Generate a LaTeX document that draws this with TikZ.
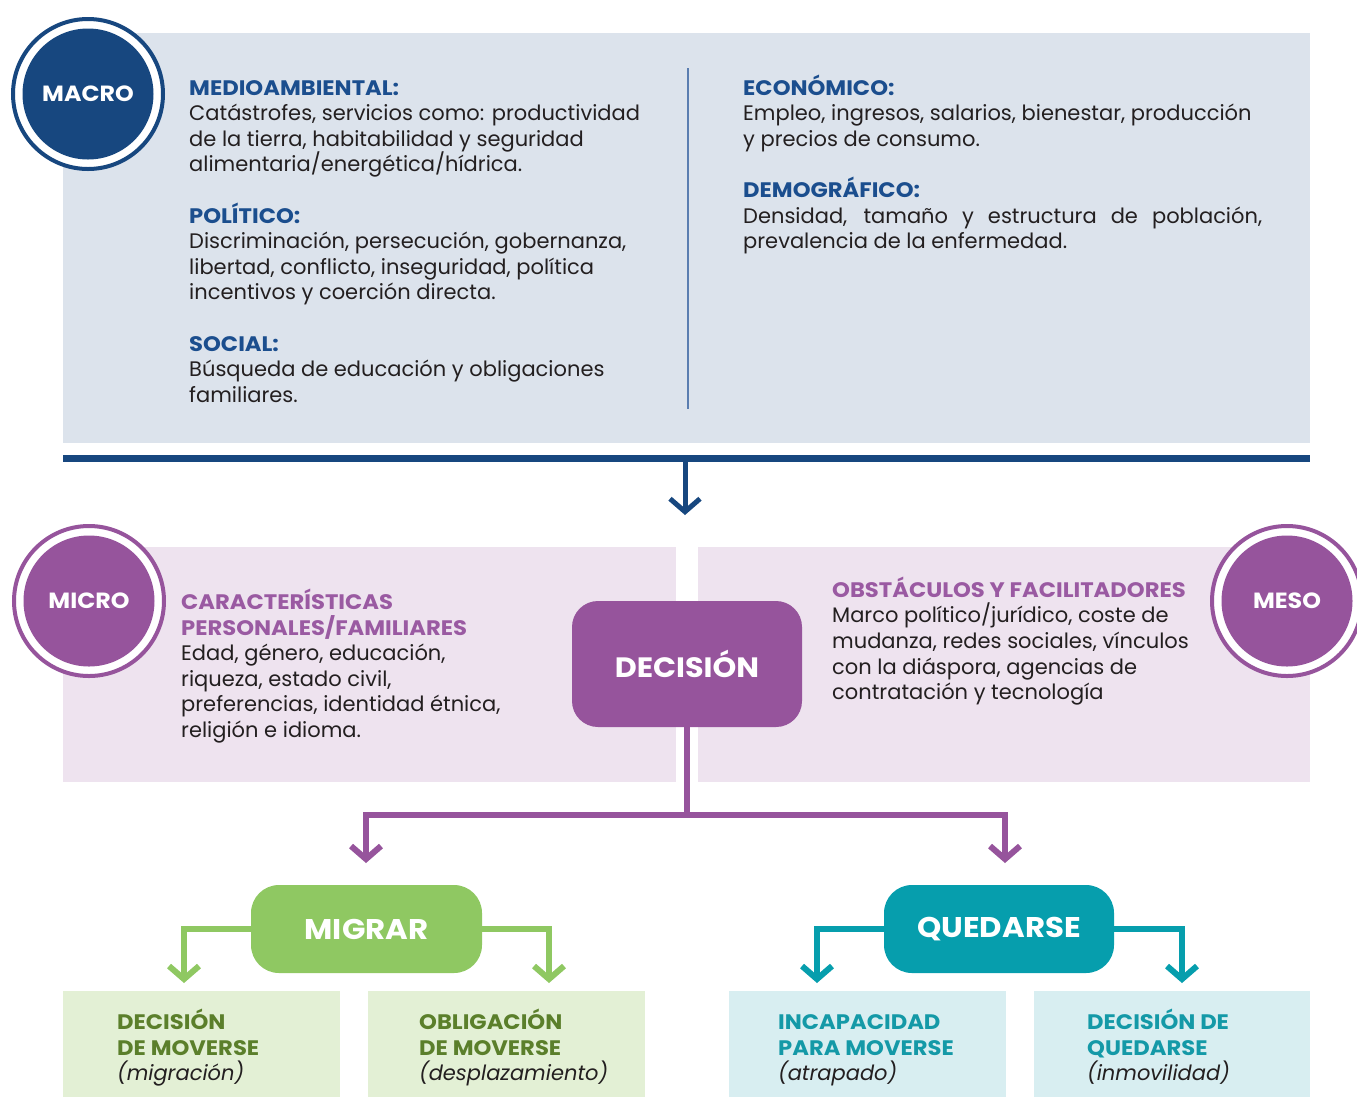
\documentclass[tikz,border=0pt]{standalone}
\usepackage{fontspec}
\setmainfont{Poppins}[BoldFeatures={FakeStretch=1.08}]
\usetikzlibrary{arrows.meta}
\definecolor{macrobg}{HTML}{DCE3EC}
\definecolor{navy}{HTML}{17477F}
\definecolor{navyhead}{HTML}{1B4E8E}
\definecolor{divcol}{HTML}{5A7DB0}
\definecolor{plum}{HTML}{96549C}
\definecolor{plumhead}{HTML}{9A5AA2}
\definecolor{lilac}{HTML}{EEE3EF}
\definecolor{leaf}{HTML}{8FC862}
\definecolor{leaflight}{HTML}{E3F0D5}
\definecolor{leafdark}{HTML}{5B7F2B}
\definecolor{teal}{HTML}{069EAD}
\definecolor{teallight}{HTML}{D8EEF1}
\definecolor{tealdark}{HTML}{1499A7}
\definecolor{txtgray}{HTML}{231F20}
\newcommand\bodyfont{\fontsize{21}{25.6}\selectfont}
\newcommand\hdb[1]{{\bfseries\color{navyhead}#1}}
\newcommand\hdp[1]{{\bfseries\color{plumhead}#1}}
\newcommand\hdg[1]{{\bfseries\color{leafdark}#1}}
\newcommand\hdt[1]{{\bfseries\color{tealdark}#1}}
\tikzset{
  txt/.style={anchor=base west, align=left, inner sep=0pt, font=\bodyfont, text=txtgray},
  panel/.style={rectangle, anchor=north west, inner sep=0pt, draw=none},
  ring/.style={circle, fill=white, draw=#1, line width=4pt, minimum size=150pt, inner sep=0pt},
  disc/.style={circle, fill=#1, minimum size=131pt, inner sep=0pt, text=white, font=\bfseries\fontsize{22}{26}\selectfont},
  pill/.style={rectangle, rounded corners=28pt, fill=#1, inner sep=0pt, text=white, font=\bfseries\fontsize{28.5}{30}\selectfont},
  conn/.style={draw=#1, line width=6pt, -{Straight Barb[length=13pt,width=30pt]}},
}
\begin{document}
\begin{tikzpicture}[x=1pt,y=-1pt]
\clip (0,0) rectangle (1357,1096);
% MACRO panel
\node[panel, fill=macrobg, minimum width=1247pt, minimum height=410pt] (macrobox) at (63,33) {};
\node[ring=navy] (macroring) at (88,94) {};
\node[disc=navy] (macro) at (88,94) {MACRO};
\coordinate (divtop) at (688,68);
\coordinate (divbot) at (688,409);
\draw[divcol, line width=2pt] (divtop) -- (divbot);
\node[txt] (medio) at (189,171.8) {\hdb{MEDIOAMBIENTAL:}\\Catástrofes, servicios como: productividad\\de la tierra, habitabilidad y seguridad\\alimentaria/energética/hídrica.};
\node[txt] (politico) at (189,299.8) {\hdb{POLÍTICO:}\\Discriminación, persecución, gobernanza,\\libertad, conflicto, inseguridad, política\\incentivos y coerción directa.};
\node[txt] (social) at (189,402.2) {\hdb{SOCIAL:}\\Búsqueda de educación y obligaciones\\familiares.};
\node[txt] (economico) at (743,146.2) {\hdb{ECONÓMICO:}\\Empleo, ingresos, salarios, bienestar, producción\\y precios de consumo.};
\node[txt] (demografico) at (743,248.6) {\hdb{DEMOGRÁFICO:}\\\makebox[519pt][s]{Densidad, tamaño y estructura de población,}\\prevalencia de la enfermedad.};
% separator and arrow
\coordinate (barl) at (63,458);
\coordinate (barr) at (1310,458);
\draw[navy, line width=7pt] (barl) -- (barr);
\coordinate (arrtop) at (685,461);
\coordinate (arrtip) at (685,515);
\draw[conn=navy, line width=5pt] (arrtop) -- (arrtip);
% MICRO / MESO panels
\node[panel, fill=lilac, minimum width=613pt, minimum height=235pt] (microbox) at (63,547) {};
\node[panel, fill=lilac, minimum width=612pt, minimum height=235pt] (mesobox) at (698,547) {};
\node[ring=plum] (microring) at (89,601) {};
\node[disc=plum] (micro) at (89,601) {MICRO};
\node[ring=plum] (mesoring) at (1287,601) {};
\node[disc=plum] (meso) at (1287,601) {MESO};
\node[txt] (caract) at (181,737.5) {\hdp{CARACTERÍSTICAS}\\\hdp{PERSONALES/FAMILIARES}\\Edad, género, educación,\\riqueza, estado civil,\\preferencias, identidad étnica,\\religión e idioma.};
\node[txt] (obst) at (832,699.7) {\hdp{OBSTÁCULOS Y FACILITADORES}\\Marco político/jurídico, coste de\\mudanza, redes sociales, vínculos\\con la diáspora, agencias de\\contratación y tecnología};
\node[pill=plum, rounded corners=26pt, minimum width=230pt, minimum height=126pt, font=\bfseries\fontsize{28}{30}\selectfont] (decision) at (687,664) {DECISIÓN};
% decision branches
\coordinate (split) at (687,815);
\coordinate (migtip) at (366,863);
\coordinate (quetip) at (1005,863);
\draw[conn=plum] (decision.south) -- (split) -| (migtip);
\draw[conn=plum] (split) -| (quetip);
% MIGRAR / QUEDARSE
\node[pill=leaf, minimum width=231pt, minimum height=88pt] (migrar) at (366.5,929) {MIGRAR};
\node[pill=teal, minimum width=230pt, minimum height=88pt] (quedarse) at (999,929) {QUEDARSE};
\coordinate (mlt) at (184,983);
\coordinate (mrt) at (549,983);
\coordinate (qlt) at (817,983);
\coordinate (qrt) at (1182,983);
\draw[conn=leaf] (migrar.west) -| (mlt);
\draw[conn=leaf] (migrar.east) -| (mrt);
\draw[conn=teal] (quedarse.west) -| (qlt);
\draw[conn=teal] (quedarse.east) -| (qrt);
% outcome boxes
\node[panel, fill=leaflight, minimum width=277pt, minimum height=115pt] (dmbox) at (63,991) {};
\node[panel, fill=leaflight, minimum width=277pt, minimum height=115pt] (ombox) at (368,991) {};
\node[panel, fill=teallight, minimum width=277pt, minimum height=115pt] (ipbox) at (729,991) {};
\node[panel, fill=teallight, minimum width=276pt, minimum height=115pt] (dqbox) at (1034,991) {};
\node[txt] (dmtxt) at (117,1080.9) {\hdg{DECISIÓN}\\\hdg{DE MOVERSE}\\\textit{(migración)}};
\node[txt] (omtxt) at (419,1080.9) {\hdg{OBLIGACIÓN}\\\hdg{DE MOVERSE}\\\textit{(desplazamiento)}};
\node[txt] (iptxt) at (778,1080.9) {\hdt{INCAPACIDAD}\\\hdt{PARA MOVERSE}\\\textit{(atrapado)}};
\node[txt] (dqtxt) at (1087,1080.9) {\hdt{DECISIÓN DE}\\\hdt{QUEDARSE}\\\textit{(inmovilidad)}};
\end{tikzpicture}
\end{document}
